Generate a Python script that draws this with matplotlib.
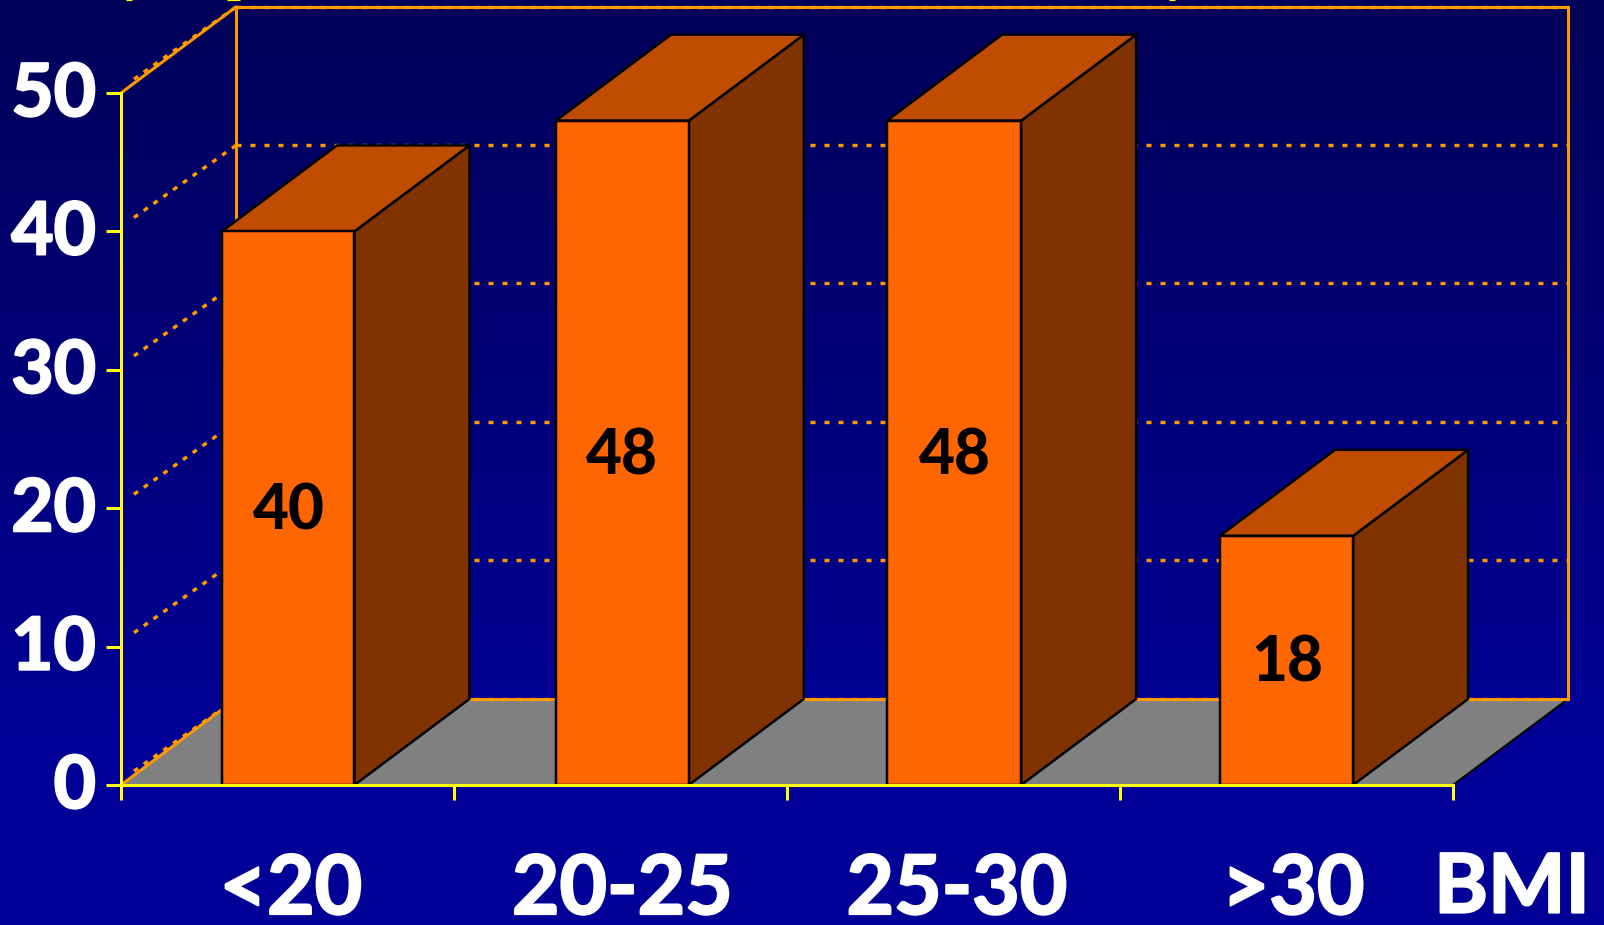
import numpy as np
import matplotlib
matplotlib.use("Agg")
import matplotlib.pyplot as plt
import matplotlib.patheffects as pe
from matplotlib.lines import Line2D
from matplotlib.patches import Polygon
from matplotlib.transforms import ScaledTranslation

categories = ["<20", "20-25", "25-30", ">30"]
values = [40, 48, 48, 18]
y_ticks = [0, 10, 20, 30, 40, 50]
axis_label = "BMI"

FONT = "Lato"
plt.rcParams["font.family"] = [FONT, "DejaVu Sans"]
plt.rcParams["lines.scale_dashes"] = False

W, H = 1604, 925
PX = 72 / 100  # points per pixel at dpi 100
fig = plt.figure(figsize=(W / 100, H / 100), dpi=100)

# gradient background
bg = fig.add_axes([0, 0, 1, 1], zorder=0)
bg.axis("off")
t = np.linspace(0, 1, 256)[:, None]
top, bottom = np.array([0, 0, 88]), np.array([0, 0, 150])
grad = (top + (bottom - top) * np.clip(t / 0.8, 0, 1)[..., None]) / 255
bg.imshow(grad, aspect="auto", extent=[0, 1, 0, 1], origin="upper")

ax = fig.add_axes([121 / W, 1 - 785 / H, (1453 - 121) / W, (785 - 93) / H], zorder=1)
ax.patch.set_alpha(0)
ax.set_xlim(0, 4)
ax.set_ylim(0, 50)

DX, DY = 115 / 333, 86 / 13.84   # oblique depth in data units
BAR_L = [0.303, 1.306, 2.300, 3.300]
BAR_R = [0.701, 1.705, 2.703, 3.700]
YEL, ORG = "#FFFF00", "#FF9900"
FACE, TOP, SIDE, FLOOR = "#FF6600", "#BF4C00", "#803300", "#808080"

# floor
ax.add_patch(Polygon([(0, 0), (4, 0), (4 + DX, DY), (DX, DY)], closed=True, fc=FLOOR, ec="none", clip_on=False, zorder=1))
ax.plot([4, 4 + DX], [0, DY], color="black", lw=2 * PX, clip_on=False, zorder=1.1)

# walls
ymax = y_ticks[-1]
for xs, ys in [([0, DX], [0, DY]), ([0, DX], [ymax, ymax + DY]),
               ([DX, DX], [DY, ymax + DY]), ([4 + DX, 4 + DX], [DY, ymax + DY]),
               ([DX, 4 + DX], [DY, DY]), ([DX, 4 + DX], [ymax + DY, ymax + DY])]:
    ax.plot(xs, ys, color=ORG, lw=3 * PX, clip_on=False, zorder=1.3)

# dotted grid
for v in y_ticks:
    ax.plot([DX, 4 + DX], [v + DY + 0.03, v + DY + 0.03], color=ORG, lw=3.4 * PX,
            ls=(0, (5 * PX, 9 * PX)), clip_on=False, zorder=1.2)
    ax.plot([DX, 0.027], [v + DY, v + 0.8], color=ORG, lw=3.4 * PX,
            ls=(0, (5 * PX, 7 * PX)), clip_on=False, zorder=1.2)

# bars
for i, v in enumerate(values):
    x0, x1 = BAR_L[i], BAR_R[i]
    kw = dict(closed=True, ec="black", lw=2.5 * PX, joinstyle="round", clip_on=False, zorder=2 + i * 0.01)
    ax.add_patch(Polygon([(x1, 0), (x1 + DX, DY), (x1 + DX, v + DY), (x1, v)], fc=SIDE, **kw))
    ax.add_patch(Polygon([(x0, v), (x1, v), (x1 + DX, v + DY), (x0 + DX, v + DY)], fc=TOP, **kw))
    ax.add_patch(Polygon([(x0, 0), (x1, 0), (x1, v), (x0, v)], fc=FACE, **kw))
    ax.annotate(str(v), (i + 0.5, v / 2), xytext=(1 * PX, -3 * PX), textcoords="offset points",
                ha="center", va="center", color="black", fontsize=62 * PX, fontweight="black", zorder=3)

# axes
for s in ("top", "right"):
    ax.spines[s].set_visible(False)
for s in ("left", "bottom"):
    ax.spines[s].set_color(YEL)
    ax.spines[s].set_linewidth(3 * PX)
    ax.spines[s].set_zorder(4)
ax.set_yticks(y_ticks)
ax.set_yticklabels([str(v) for v in y_ticks], fontsize=73 * PX, fontweight="bold", color="white")
ax.set_xticks(range(len(categories) + 1))
ax.set_xticklabels([])
ax.set_xticks([0.51, 1.505, 2.51, 3.52], minor=True)
ax.set_xticklabels(categories, minor=True, fontsize=82 * PX, fontweight="bold", color="white")
ax.tick_params(axis="both", which="major", length=15 * PX, width=3 * PX, color=YEL)
ax.tick_params(axis="y", pad=10 * PX)
ax.tick_params(axis="x", which="minor", length=0, pad=68 * PX)
ax.set_xlabel(axis_label, fontsize=82 * PX, fontweight="bold", color="white")
ax.xaxis.set_label_coords((1512 - 121) / 1332, -(889 - 785) / 692)
ax.xaxis.label.set_verticalalignment("center")

# heavier, rounded strokes like the original lettering; nudge y labels to their ticks
stroke = [pe.withStroke(linewidth=2.2 * PX, foreground="white", capstyle="round", joinstyle="round")]
up = ScaledTranslation(0, 4 / 100, fig.dpi_scale_trans)
for lab in ax.get_yticklabels():
    lab.set_path_effects(stroke)
    lab.set_transform(lab.get_transform() + up)
for lab in ax.get_xticklabels(minor=True):
    lab.set_path_effects(stroke)
ax.xaxis.label.set_path_effects(stroke)

# clipped remnants of text at the very top edge of the picture
for x0, x1 in [(126, 132), (227, 240), (1169, 1175)]:
    fig.add_artist(Line2D([x0 / W, x1 / W], [1 - 0.4 / H, 1 - 0.4 / H], color=YEL, lw=1.2 * PX, solid_capstyle="butt"))

fig.savefig("out.png", dpi=100)
